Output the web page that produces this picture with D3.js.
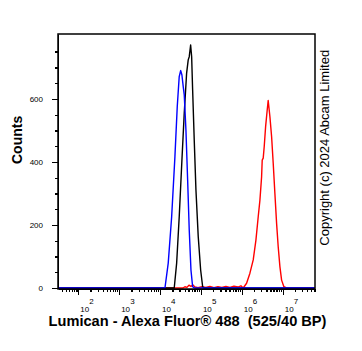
<!DOCTYPE html>
<html>
<meta charset="utf-8">
<style>
body { margin: 0; background: #fff; }
.axis text { font: 8px "Liberation Sans", Arial, sans-serif; fill: #000; }
.axis path, .axis line { fill: none; stroke: #000; stroke-width: 1.3; shape-rendering: crispEdges; }
.minor path { display: none; }
path.series { fill: none; stroke-width: 1.4; stroke-linejoin: round; }
.frame { fill: none; stroke: #000; stroke-width: 1.5; }
.title { font: bold 14px "Liberation Sans", Arial, sans-serif; white-space: pre; }
.copy { font: 13px "Liberation Sans", Arial, sans-serif; }
</style>
<body>
<div id="chart"></div>

<script src="https://d3js.org/d3.v7.min.js"></script>
<script>

// [fluorescence, counts]
var isotype = [[32, 0], [13180, 0], [15850, 79], [19230, 226], [23120, 417], [26360, 576],
    [29440, 671], [31910, 690], [34280, 676], [36900, 639], [39080, 613], [42950, 502],
    [47300, 343], [51760, 184], [57020, 57], [62660, 4], [69340, 0], [6e7, 0]];

var unstained = [[32, 0], [22230, 0], [25470, 79], [29440, 226], [34280, 406], [39080, 555],
    [44670, 682], [48870, 724], [51760, 734], [55980, 771], [59290, 734], [62660, 629],
    [68550, 470], [75510, 311], [85900, 163], [98390, 57], [110200, 4], [118300, 0], [6e7, 0]];

var lumican = [[32, 0], [36300, 0], [40640, 4], [45470, 2], [50930, 9], [57020, 5],
    [63680, 10], [71290, 3], [84430, 1], [105700, 4], [132400, 2], [166000, 5],
    [208000, 1], [260600, 4], [325800, 2], [408300, 5], [511700, 2], [641300, 6],
    [803500, 3], [950700, 7], [1081000, 0], [1309000, 15], [1578000, 47], [1901000, 89],
    [2213000, 152], [2518000, 226], [2773000, 279], [3048000, 353], [3155000, 406],
    [3336000, 412], [3532000, 449], [3819000, 512], [4178000, 565], [4416000, 595],
    [4864000, 544], [5355000, 480], [5860000, 396], [6442000, 300], [7091000, 205],
    [7762000, 131], [8545000, 68], [9397000, 25], [10690000, 4], [12450000, 0], [6e7, 0]];

var xMajor = [1e2, 1e3, 1e4, 1e5, 1e6, 1e7];
var yMajor = [0, 200, 400, 600];
var yMinor = [50, 100, 150, 250, 300, 350, 450, 500, 550, 650, 700, 750];

var margin = {top: 34, right: 47, bottom: 62, left: 58},
    width = 362 - margin.left - margin.right,
    height = 351 - margin.top - margin.bottom;

var x = d3.scaleLog()
    .domain([Math.pow(10, 1.504), Math.pow(10, 7.79)])
    .range([0, width]);

var y = d3.scaleLinear()
    .domain([0, 806])
    .range([height - 1, 0]);

var xMinor = [];
for (var d = 1; d <= 7; d++) {
  for (var k = 2; k <= 9; k++) {
    var v = k * Math.pow(10, d);
    if (v > x.domain()[0] && v < x.domain()[1]) xMinor.push(v);
  }
}

var svg = d3.select("#chart").append("svg")
    .attr("width", 362)
    .attr("height", 351)
  .append("g")
    .attr("transform", "translate(" + margin.left + "," + margin.top + ")");

var line = d3.line()
    .x(function(d) { return x(d[0]); })
    .y(function(d) { return y(d[1]); });

svg.append("path").datum(lumican).attr("class", "series").attr("stroke", "#ff0000").attr("d", line);
svg.append("path").datum(unstained).attr("class", "series").attr("stroke", "#000000").attr("d", line);
svg.append("path").datum(isotype).attr("class", "series").attr("stroke", "#0000ff").attr("d", line);

svg.append("rect")
    .attr("class", "frame")
    .attr("width", width)
    .attr("height", height);

// x axis
svg.append("g")
    .attr("class", "x axis")
    .attr("transform", "translate(0," + height + ")")
    .call(d3.axisBottom(x).tickValues(xMajor).tickSize(6).tickSizeOuter(0).tickFormat(""));

svg.append("g")
    .attr("class", "x axis minor")
    .attr("transform", "translate(0," + height + ")")
    .call(d3.axisBottom(x).tickValues(xMinor).tickSize(3).tickFormat(""));

var xl = svg.append("g").attr("class", "axis");
xl.selectAll("text.base")
  .data(xMajor)
  .enter().append("text")
    .attr("class", "base")
    .attr("x", function(d) { return x(d) + 2; })
    .attr("y", height + 23)
    .text("10");
xl.selectAll("text.exp")
  .data(xMajor)
  .enter().append("text")
    .attr("class", "exp")
    .attr("x", function(d) { return x(d) + 11; })
    .attr("y", height + 15)
    .text(function(d) { return Math.round(Math.log10(d)); });

// y axis
svg.append("g")
    .attr("class", "y axis")
    .call(d3.axisLeft(y).tickValues(yMajor).tickSize(6).tickSizeOuter(0).tickPadding(9));

svg.append("g")
    .attr("class", "y axis minor")
    .call(d3.axisLeft(y).tickValues(yMinor).tickSize(3).tickFormat(""));

svg.append("text")
    .attr("class", "title")
    .attr("x", width / 2 + 1)
    .attr("y", height + 37)
    .attr("text-anchor", "middle")
    .style("font-size", "14.6px")
    .text("Lumican - Alexa Fluor\u00ae 488  (525/40 BP)");

svg.append("text")
    .attr("class", "title")
    .attr("transform", "translate(-36," + (y(470)) + ") rotate(-90)")
    .attr("text-anchor", "middle")
    .text("Counts");

svg.append("text")
    .attr("class", "copy")
    .attr("transform", "translate(" + (width + 14) + "," + (y(445)) + ") rotate(-90)")
    .attr("text-anchor", "middle")
    .text("Copyright (c) 2024 Abcam Limited");

</script>
</body>
</html>
